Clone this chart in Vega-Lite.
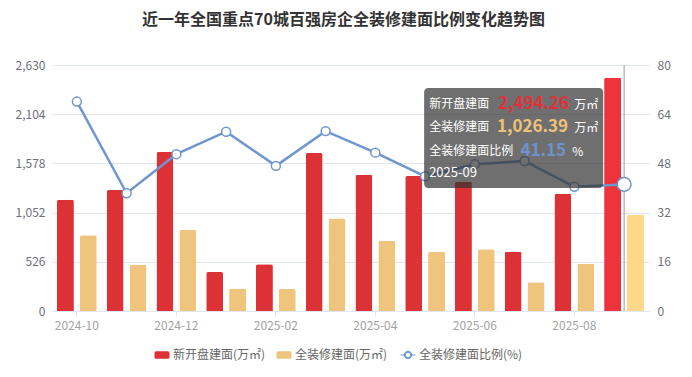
{
  "$schema": "https://vega.github.io/schema/vega-lite/v6.json",
  "width": 597,
  "height": 246,
  "autosize": {"type": "none"},
  "padding": {"left": 52, "top": 65, "right": 43, "bottom": 66},
  "background": "white",
  "config": {
    "font": "Noto Sans CJK SC",
    "view": {"stroke": null},
    "axis": {"labelFontSize": 12, "titleFontSize": 12}
  },
  "title": {
    "text": "近一年全国重点70城百强房企全装修建面比例变化趋势图",
    "fontSize": 16,
    "fontWeight": "bold",
    "color": "#333333",
    "anchor": "middle",
    "dx": -7,
    "offset": 31
  },
  "data": {
    "values": [
      {"month": "2024-10", "新开盘建面(万㎡)": 1190, "全装修建面(万㎡)": 810, "全装修建面比例(%)": 68.1},
      {"month": "2024-11", "新开盘建面(万㎡)": 1293, "全装修建面(万㎡)": 495, "全装修建面比例(%)": 38.3},
      {"month": "2024-12", "新开盘建面(万㎡)": 1700, "全装修建面(万㎡)": 866, "全装修建面比例(%)": 51.0},
      {"month": "2025-01", "新开盘建面(万㎡)": 417, "全装修建面(万㎡)": 240, "全装修建面比例(%)": 58.3},
      {"month": "2025-02", "新开盘建面(万㎡)": 499, "全装修建面(万㎡)": 234, "全装修建面比例(%)": 47.2},
      {"month": "2025-03", "新开盘建面(万㎡)": 1689, "全装修建面(万㎡)": 988, "全装修建面比例(%)": 58.5},
      {"month": "2025-04", "新开盘建面(万㎡)": 1457, "全装修建面(万㎡)": 750, "全装修建面比例(%)": 51.5},
      {"month": "2025-05", "新开盘建面(万㎡)": 1443, "全装修建面(万㎡)": 632, "全装修建面比例(%)": 43.8},
      {"month": "2025-06", "新开盘建面(万㎡)": 1382, "全装修建面(万㎡)": 659, "全装修建面比例(%)": 47.7},
      {"month": "2025-07", "新开盘建面(万㎡)": 634, "全装修建面(万㎡)": 308, "全装修建面比例(%)": 48.8},
      {"month": "2025-08", "新开盘建面(万㎡)": 1254, "全装修建面(万㎡)": 506, "全装修建面比例(%)": 40.4},
      {"month": "2025-09", "新开盘建面(万㎡)": 2494.26, "全装修建面(万㎡)": 1026.39, "全装修建面比例(%)": 41.15}
    ]
  },
  "encoding": {
    "x": {
      "field": "month",
      "type": "ordinal",
      "title": null,
      "scale": {"paddingInner": 0.2, "paddingOuter": 0.1},
      "axis": {
        "values": ["2024-10", "2024-12", "2025-02", "2025-04", "2025-06", "2025-08"],
        "labelAngle": 0,
        "labelColor": "#A3A3A3",
        "labelFontSize": 12,
        "labelPadding": 4,
        "tickColor": "#E0E6F1",
        "tickSize": 5,
        "domainColor": "#E0E6F1",
        "grid": false
      }
    }
  },
  "layer": [
    {
      "layer": [
        {
          "transform": [{"filter": "datum.month === '2025-09'"}],
          "mark": {"type": "rule", "color": "#9A9A9A", "strokeWidth": 1},
          "encoding": {}
        },
        {
          "transform": [{"fold": ["新开盘建面(万㎡)", "全装修建面(万㎡)"], "as": ["series", "value"]}],
          "mark": {"type": "bar", "cornerRadiusTopLeft": 2, "cornerRadiusTopRight": 2},
          "encoding": {
            "y": {
              "field": "value",
              "type": "quantitative",
              "title": null,
              "scale": {"domain": [0, 2630], "nice": false},
              "axis": {
                "values": [0, 526, 1052, 1578, 2104, 2630],
                "format": ",d",
                "labelColor": "#6E7079",
                "labelPadding": 7,
                "domain": false,
                "ticks": false,
                "gridColor": "#E0E6F1"
              }
            },
            "xOffset": {
              "field": "series",
              "type": "nominal",
              "sort": ["新开盘建面(万㎡)", "全装修建面(万㎡)"],
              "scale": {"paddingInner": 0.26, "paddingOuter": 0}
            },
            "color": {
              "field": "series",
              "type": "nominal",
              "scale": {
                "domain": ["新开盘建面(万㎡)", "全装修建面(万㎡)", "全装修建面比例(%)"],
                "range": ["#DC3236", "#EFC57E", "#7096CF"]
              },
              "legend": {
                "orient": "none",
                "legendX": 104,
                "legendY": 284,
                "direction": "horizontal",
                "title": null,
                "symbolSize": 225,
                "labelFontSize": 12,
                "labelColor": "#666666",
                "labelOffset": 5,
                "columnPadding": 10,
                "encode": {
                  "symbols": {
                    "update": {
                      "shape": {"signal": "datum.value === '全装修建面比例(%)' ? 'M-1,0H-0.5M0.5,0H1M0.5,0A0.5,0.5 0 1 1 -0.5,0A0.5,0.5 0 1 1 0.5,0ZM0.36,0A0.36,0.36 0 1 0 -0.36,0A0.36,0.36 0 1 0 0.36,0Z' : 'M-0.8,-0.5H0.8Q1,-0.5 1,-0.3V0.3Q1,0.5 0.8,0.5H-0.8Q-1,0.5 -1,0.3V-0.3Q-1,-0.5 -0.8,-0.5Z'"},
                      "fill": {"signal": "datum.value === '全装修建面比例(%)' ? '#ffffff' : scale('color', datum.value)"},
                      "stroke": {"signal": "scale('color', datum.value)"},
                      "strokeWidth": {"signal": "datum.value === '全装修建面比例(%)' ? 1 : 0"},
                      "opacity": {"value": 1}
                    }
                  }
                }
              }
            }
          }
        },
        {
          "transform": [
            {"filter": "datum.month === '2025-09'"},
            {"fold": ["新开盘建面(万㎡)", "全装修建面(万㎡)"], "as": ["series", "value"]}
          ],
          "mark": {"type": "bar", "cornerRadiusTopLeft": 2, "cornerRadiusTopRight": 2},
          "encoding": {
            "y": {"field": "value", "type": "quantitative"},
            "xOffset": {
              "field": "series",
              "type": "nominal",
              "sort": ["新开盘建面(万㎡)", "全装修建面(万㎡)"]
            },
            "fill": {
              "field": "series",
              "type": "nominal",
              "scale": {
                "domain": ["新开盘建面(万㎡)", "全装修建面(万㎡)"],
                "range": ["#EF333C", "#FFD88A"]
              },
              "legend": null
            }
          }
        }
      ]
    },
    {
      "layer": [
        {
          "mark": {"type": "line", "strokeWidth": 2.5},
          "encoding": {
            "y": {
              "field": "全装修建面比例(%)",
              "type": "quantitative",
              "title": null,
              "scale": {"domain": [0, 80], "nice": false},
              "axis": {
                "orient": "right",
                "values": [0, 16, 32, 48, 64, 80],
                "labelColor": "#6E7079",
                "labelPadding": 8,
                "domain": false,
                "ticks": false,
                "grid": false
              }
            },
            "color": {"datum": "全装修建面比例(%)"}
          }
        },
        {
          "mark": {"type": "point", "filled": true, "fill": "#ffffff", "stroke": "#7096CF", "strokeWidth": 1.5, "size": 80, "opacity": 1},
          "encoding": {
            "y": {"field": "全装修建面比例(%)", "type": "quantitative"}
          }
        },
        {
          "transform": [{"filter": "datum.month === '2025-09'"}],
          "mark": {"type": "point", "filled": true, "fill": "#ffffff", "stroke": "#7096CF", "strokeWidth": 1.5, "size": 190, "opacity": 1},
          "encoding": {
            "y": {"field": "全装修建面比例(%)", "type": "quantitative"}
          }
        }
      ]
    },
    {
      "transform": [{"filter": "datum.month === '2025-09'"}],
      "encoding": {
        "y": {
          "field": "新开盘建面(万㎡)",
          "type": "quantitative",
          "scale": {"domain": [0, 2630], "nice": false},
          "axis": null
        }
      },
      "layer": [
        {
          "mark": {"type": "bar", "width": 179, "xOffset": -110.5, "yOffset": 10.3, "y2Offset": 110.3, "fill": "#323232", "opacity": 0.7, "cornerRadius": 4},
          "encoding": {"y2": {"field": "新开盘建面(万㎡)"}}
        },
        {
          "mark": {"type": "text", "text": "新开盘建面", "align": "left", "baseline": "middle", "dx": -195, "dy": 26.3, "fontSize": 12, "color": "#ffffff"}
        },
        {
          "mark": {"type": "text", "align": "right", "baseline": "middle", "dx": -55, "dy": 26.3, "fontSize": 17, "fontWeight": "bold", "color": "#E0313A"},
          "encoding": {"text": {"field": "新开盘建面(万㎡)", "type": "quantitative", "format": ",.2f"}}
        },
        {
          "mark": {"type": "text", "text": "万㎡", "align": "left", "baseline": "middle", "dx": -50, "dy": 27, "fontSize": 12, "color": "#ffffff"}
        },
        {
          "mark": {"type": "text", "text": "全装修建面", "align": "left", "baseline": "middle", "dx": -195, "dy": 49.5, "fontSize": 12, "color": "#ffffff"}
        },
        {
          "mark": {"type": "text", "align": "right", "baseline": "middle", "dx": -56, "dy": 49.5, "fontSize": 17, "fontWeight": "bold", "color": "#EFC27A"},
          "encoding": {"text": {"field": "全装修建面(万㎡)", "type": "quantitative", "format": ",.2f"}}
        },
        {
          "mark": {"type": "text", "text": "万㎡", "align": "left", "baseline": "middle", "dx": -50, "dy": 50, "fontSize": 12, "color": "#ffffff"}
        },
        {
          "mark": {"type": "text", "text": "全装修建面比例", "align": "left", "baseline": "middle", "dx": -195, "dy": 73, "fontSize": 12, "color": "#ffffff"}
        },
        {
          "mark": {"type": "text", "align": "right", "baseline": "middle", "dx": -58, "dy": 73, "fontSize": 17, "fontWeight": "bold", "color": "#6E93CC"},
          "encoding": {"text": {"field": "全装修建面比例(%)", "type": "quantitative", "format": ".2f"}}
        },
        {
          "mark": {"type": "text", "text": "%", "align": "left", "baseline": "middle", "dx": -52, "dy": 74, "fontSize": 12, "color": "#ffffff"}
        },
        {
          "mark": {"type": "text", "align": "left", "baseline": "middle", "dx": -195, "dy": 95.5, "fontSize": 13, "color": "#ffffff"},
          "encoding": {"text": {"field": "month", "type": "nominal"}}
        }
      ]
    }
  ],
  "resolve": {"scale": {"y": "independent"}, "axis": {"y": "independent"}}
}
